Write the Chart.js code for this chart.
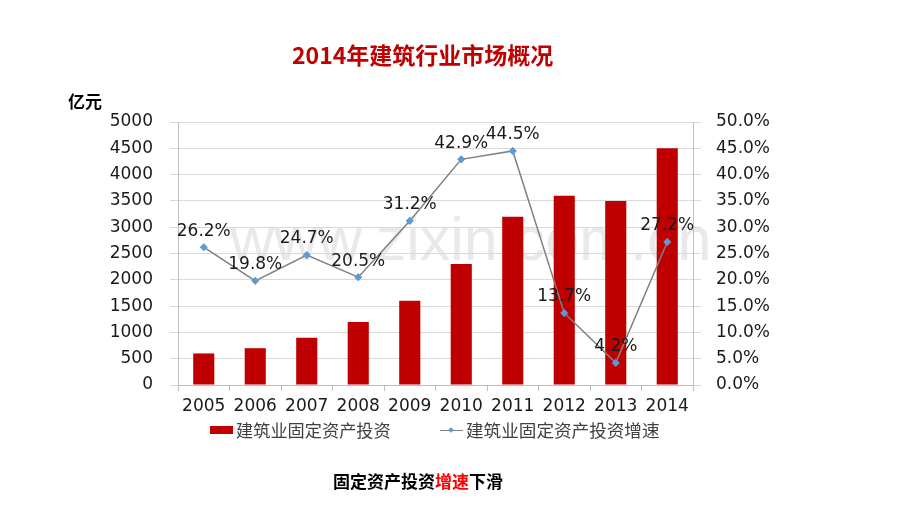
<!DOCTYPE html>
<html><head><meta charset="utf-8">
<script src="https://cdn.jsdelivr.net/npm/chart.js@4/dist/chart.umd.min.js"></script>
<style>
html,body{margin:0;padding:0;background:#fff;width:920px;height:518px;overflow:hidden;}
.abs{position:absolute;white-space:nowrap;}
#wm{left:230px;top:204px;font-family:"Liberation Sans",Arial,sans-serif;font-size:61px;color:#e9e9e9;z-index:0;}
#c{position:absolute;left:0;top:0;z-index:1;}
#title{left:292px;top:38px;font-family:"Noto Sans CJK SC",sans-serif;font-weight:bold;font-size:23px;color:#c00000;z-index:2;line-height:32px;}
#unit{left:68px;top:89px;font-family:"Noto Sans CJK SC",sans-serif;font-weight:bold;font-size:17px;color:#000;z-index:2;line-height:24px;}
#foot{left:333px;top:469px;font-family:"Noto Sans CJK SC",sans-serif;font-weight:bold;font-size:17px;color:#000;z-index:2;line-height:24px;}
#foot span{color:#ff0000;}
.leg{font-family:"Noto Sans CJK SC",sans-serif;color:#404040;z-index:2;line-height:22px;top:419px;}
</style></head>
<body>
<div id="wm" class="abs">www.zixin.com.cn</div>
<canvas id="c" width="920" height="518"></canvas>
<div id="title" class="abs">2014年建筑行业市场概况</div>
<div id="unit" class="abs">亿元</div>
<div id="foot" class="abs">固定资产投资<span>增速</span>下滑</div>
<div class="abs" style="left:210px;top:426px;width:23px;height:8px;background:#c00000;z-index:2;"></div>
<div class="abs leg" id="leg1" style="left:236px;font-size:17.2px;">建筑业固定资产投资</div>
<div class="abs" style="left:440px;top:429.5px;width:23px;height:1.5px;background:#808080;z-index:2;"></div>
<div class="abs" style="left:449px;top:428px;width:4px;height:4px;background:#5b9bd5;transform:rotate(45deg);z-index:3;"></div>
<div class="abs leg" id="leg2" style="left:466px;font-size:17.6px;">建筑业固定资产投资增速</div>
<script>
const years = ['2005','2006','2007','2008','2009','2010','2011','2012','2013','2014'];
const investment = [600, 700, 900, 1200, 1600, 2300, 3200, 3600, 3500, 4500];
const growthPct = [26.2, 19.8, 24.7, 20.5, 31.2, 42.9, 44.5, 13.7, 4.2, 27.2];
const seriesNames = ['建筑业固定资产投资', '建筑业固定资产投资增速'];

const tickFont = {family: '"DejaVu Sans", sans-serif', size: 17};
const labelPlugin = {
  id: 'pctLabels',
  afterDatasetsDraw(chart) {
    const ctx = chart.ctx;
    const meta = chart.getDatasetMeta(1);
    ctx.save();
    ctx.font = '17px "DejaVu Sans", sans-serif';
    ctx.fillStyle = '#1a1a1a';
    ctx.textAlign = 'center';
    ctx.textBaseline = 'middle';
    meta.data.forEach((pt, i) => {
      ctx.fillText(growthPct[i].toFixed(1) + '%', pt.x, pt.y - 16);
    });
    ctx.restore();
  }
};

new Chart(document.getElementById('c'), {
  type: 'bar',
  data: {
    labels: years,
    datasets: [
      {type: 'bar', label: seriesNames[0], data: investment, backgroundColor: '#c00000',
       yAxisID: 'y', categoryPercentage: 1, barPercentage: 0.41, order: 2},
      {type: 'line', label: seriesNames[1], data: growthPct, yAxisID: 'y1',
       borderColor: '#808080', borderWidth: 1.5, pointStyle: 'rectRot', pointRadius: 3,
       pointBackgroundColor: '#5b9bd5', pointBorderColor: '#5b9bd5', tension: 0, order: 1}
    ]
  },
  options: {
    responsive: false, animation: false, devicePixelRatio: 1,
    layout: {padding: {top: 122, left: 0, right: 0, bottom: 0}},
    plugins: {legend: {display: false}, tooltip: {enabled: false}},
    scales: {
      x: {
        offset: true,
        grid: {offset: true, drawOnChartArea: false, drawTicks: true, tickLength: 6, color: '#bfbfbf'},
        border: {color: '#bfbfbf'},
        ticks: {font: tickFont, color: '#1a1a1a', padding: 5, maxRotation: 0, autoSkip: false},
        afterFit(s) { s.height = 133; }
      },
      y: {
        position: 'left', min: 0, max: 5000,
        ticks: {stepSize: 500, font: tickFont, color: '#1a1a1a', padding: 17,
                callback: v => String(v)},
        grid: {color: '#d9d9d9', tickLength: 8},
        border: {color: '#bfbfbf'},
        afterFit(s) { s.width = 178; }
      },
      y1: {
        position: 'right', min: 0, max: 50,
        ticks: {stepSize: 5, font: tickFont, color: '#1a1a1a', padding: 15,
                callback: v => v.toFixed(1) + '%'},
        grid: {drawOnChartArea: false, color: '#d9d9d9', tickLength: 8},
        border: {color: '#bfbfbf'},
        afterFit(s) { s.width = 227; }
      }
    }
  },
  plugins: [labelPlugin]
});
</script>
</body></html>
